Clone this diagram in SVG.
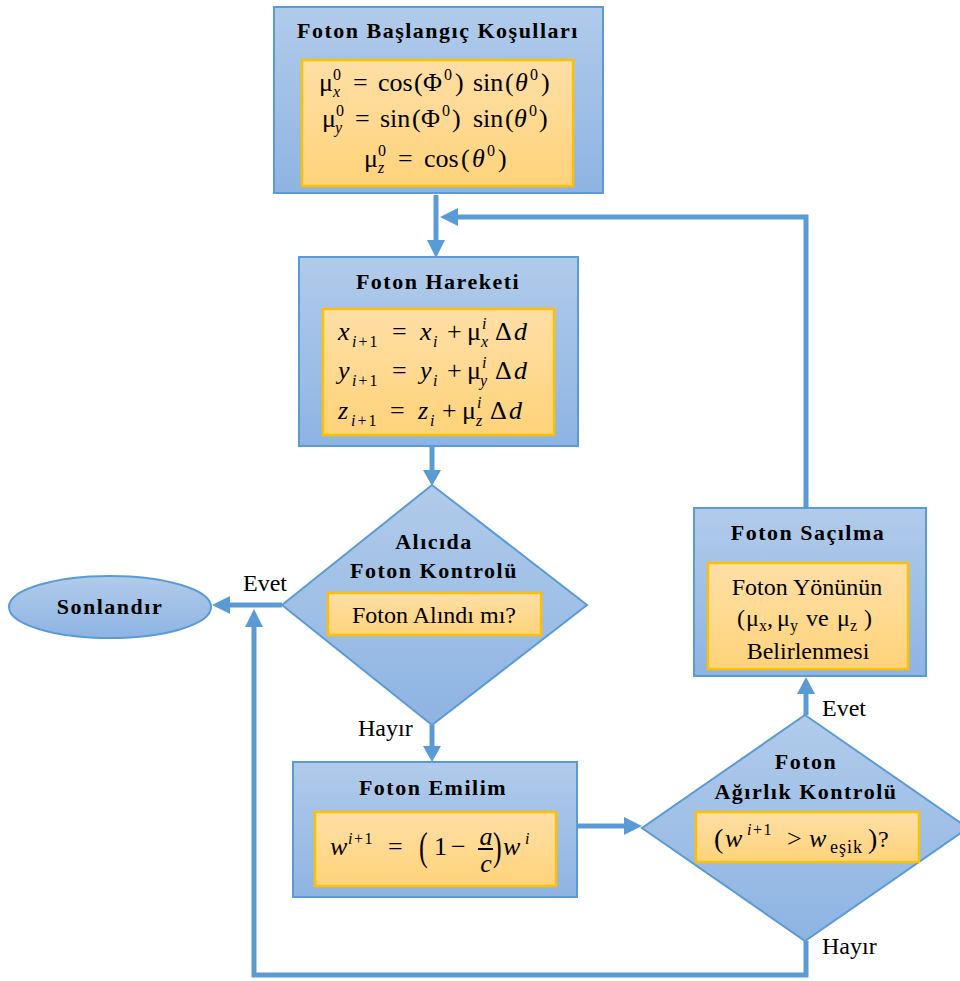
<svg xmlns="http://www.w3.org/2000/svg" width="960" height="981" viewBox="0 0 960 981">
<defs>
<linearGradient id="gb" x1="0" y1="0" x2="0" y2="1"><stop offset="0" stop-color="#b1cbea"/><stop offset="1" stop-color="#8eb4e3"/></linearGradient>
<linearGradient id="go" x1="0" y1="0" x2="0" y2="1"><stop offset="0" stop-color="#fedfa6"/><stop offset="1" stop-color="#ffd37a"/></linearGradient>
<style>
.box{fill:url(#gb);stroke:#5b9bd5;stroke-width:2}
.in{fill:url(#go);stroke:#ffc000;stroke-width:2.5}
.t{font-family:"Liberation Serif","Times New Roman",serif;font-weight:bold;font-size:22px;letter-spacing:1.5px;fill:#000;text-anchor:middle}
.r{font-family:"Liberation Serif","Times New Roman",serif;font-size:24px;fill:#000}
.m{font-family:"Liberation Serif","Times New Roman",serif;font-size:26px;fill:#000}
.s{font-size:16px}
.i{font-style:italic}
.c{fill:none;stroke:#5b9bd5;stroke-width:5}
.ah{fill:#5b9bd5}
</style>
</defs>

<g id="connectors">
<path class="c" d="M436,195 V244"/>
<path class="ah" d="M427,240 L445,240 L436,258 z"/>
<path class="c" d="M806,508 V217 H456"/>
<path class="ah" d="M458,208 L458,226 L440,217 z"/>
<path class="c" d="M432,446 V472"/>
<path class="ah" d="M423,470 L441,470 L432,486 z"/>
<path class="c" d="M432,725 V749"/>
<path class="ah" d="M423,746 L441,746 L432,762 z"/>
<path class="c" d="M282,605 H228"/>
<path class="ah" d="M230,596 L230,614 L212,605 z"/>
<path class="c" d="M806,941 V975 H254 V625"/>
<path class="ah" d="M245,627 L263,627 L254,609 z"/>
<path class="c" d="M577,826 H626"/>
<path class="ah" d="M624,817 L624,835 L642,826 z"/>
<path class="c" d="M806,715 V692"/>
<path class="ah" d="M797,694 L815,694 L806,677 z"/>
</g>

<g id="baslangic">
<rect class="box" x="274" y="7" width="329" height="186"/>
<text class="t" x="438" y="38">Foton Başlangıç Koşulları</text>
<rect class="in" x="302" y="60" width="271" height="126"/>
<text class="m"><tspan x="319" y="91">μ</tspan><tspan class="s" x="333" y="80">0</tspan><tspan class="s i" x="333" y="97">x</tspan><tspan x="353" y="91">=</tspan><tspan x="378" y="91">cos</tspan><tspan x="414" y="91">(</tspan><tspan x="423" y="91">Φ</tspan><tspan class="s" x="444" y="80">0</tspan><tspan x="455" y="91">)</tspan><tspan x="473" y="91">sin</tspan><tspan x="505" y="91">(</tspan><tspan class="i" x="515" y="91">θ</tspan><tspan class="s" x="530" y="80">0</tspan><tspan x="541" y="91">)</tspan></text>
<text class="m"><tspan x="322" y="127">μ</tspan><tspan class="s" x="336" y="116">0</tspan><tspan class="s i" x="335" y="133">y</tspan><tspan x="355" y="127">=</tspan><tspan x="380" y="127">sin</tspan><tspan x="412" y="127">(</tspan><tspan x="421" y="127">Φ</tspan><tspan class="s" x="442" y="116">0</tspan><tspan x="452" y="127">)</tspan><tspan x="473" y="127">sin</tspan><tspan x="505" y="127">(</tspan><tspan class="i" x="514" y="127">θ</tspan><tspan class="s" x="529" y="116">0</tspan><tspan x="539" y="127">)</tspan></text>
<text class="m"><tspan x="364" y="167">μ</tspan><tspan class="s" x="378" y="156">0</tspan><tspan class="s i" x="378" y="173">z</tspan><tspan x="398" y="167">=</tspan><tspan x="424" y="167">cos</tspan><tspan x="461" y="167">(</tspan><tspan class="i" x="472" y="167">θ</tspan><tspan class="s" x="487" y="156">0</tspan><tspan x="498" y="167">)</tspan></text>
</g>

<g id="hareket">
<rect class="box" x="299" y="257" width="279" height="189"/>
<text class="t" x="438" y="289">Foton Hareketi</text>
<rect class="in" x="323" y="309" width="231" height="126"/>
<text class="m"><tspan class="i" x="338" y="340">x</tspan><tspan class="s" x="352" y="347" letter-spacing="2"><tspan class="i">i</tspan>+1</tspan><tspan x="392" y="340">=</tspan><tspan class="i" x="420" y="340">x</tspan><tspan class="s i" x="433" y="347">i</tspan><tspan x="447" y="340">+</tspan><tspan x="467" y="340">μ</tspan><tspan class="s i" x="482" y="329">i</tspan><tspan class="s i" x="481" y="347">x</tspan><tspan x="495" y="340">Δ</tspan><tspan class="i" x="514" y="340">d</tspan></text>
<text class="m"><tspan class="i" x="338" y="379">y</tspan><tspan class="s" x="352" y="386" letter-spacing="2"><tspan class="i">i</tspan>+1</tspan><tspan x="392" y="379">=</tspan><tspan class="i" x="420" y="379">y</tspan><tspan class="s i" x="433" y="386">i</tspan><tspan x="447" y="379">+</tspan><tspan x="467" y="379">μ</tspan><tspan class="s i" x="482" y="368">i</tspan><tspan class="s i" x="480" y="386">y</tspan><tspan x="495" y="379">Δ</tspan><tspan class="i" x="514" y="379">d</tspan></text>
<text class="m"><tspan class="i" x="338" y="419">z</tspan><tspan class="s" x="351" y="426" letter-spacing="2"><tspan class="i">i</tspan>+1</tspan><tspan x="390" y="419">=</tspan><tspan class="i" x="418" y="419">z</tspan><tspan class="s i" x="430" y="426">i</tspan><tspan x="442" y="419">+</tspan><tspan x="462" y="419">μ</tspan><tspan class="s i" x="477" y="408">i</tspan><tspan class="s i" x="476" y="426">z</tspan><tspan x="490" y="419">Δ</tspan><tspan class="i" x="509" y="419">d</tspan></text>
</g>

<g id="alicida">
<path class="box" d="M432,485 L587,605 L432,725 L282,605 z"/>
<text class="t" x="434" y="549">Alıcıda</text>
<text class="t" x="434" y="578">Foton Kontrolü</text>
<rect class="in" x="328" y="593" width="213" height="42"/>
<text class="r" x="434" y="623" text-anchor="middle">Foton Alındı mı?</text>
</g>

<g id="sonlandir">
<ellipse class="box" cx="110" cy="607" rx="101" ry="31"/>
<text class="t" x="110" y="614">Sonlandır</text>
</g>

<g id="emilim">
<rect class="box" x="293" y="762" width="284" height="135"/>
<text class="t" x="433" y="795">Foton Emilim</text>
<rect class="in" x="315" y="812" width="241" height="74"/>
<text class="m"><tspan class="i" x="330" y="855">w</tspan><tspan class="s" x="348" y="844" letter-spacing="1.5"><tspan class="i">i</tspan>+1</tspan><tspan x="388" y="855">=</tspan></text>
<text class="m" transform="translate(419,860) scale(1,1.5)">(</text>
<text class="m"><tspan x="434" y="855">1</tspan><tspan x="451" y="855">−</tspan></text>
<text class="m i" x="486" y="845" text-anchor="middle">a</text>
<line x1="478" y1="849" x2="493" y2="849" stroke="#000" stroke-width="2"/>
<text class="m i" x="486" y="872" text-anchor="middle">c</text>
<text class="m" transform="translate(493,860) scale(1,1.5)">)</text>
<text class="m"><tspan class="i" x="503" y="855">w</tspan><tspan class="s i" x="525" y="844">i</tspan></text>
</g>

<g id="agirlik">
<path class="box" d="M805,715 L968,828 L805,941 L642,828 z"/>
<text class="t" x="806" y="769">Foton</text>
<text class="t" x="806" y="799">Ağırlık Kontrolü</text>
<rect class="in" x="696" y="812" width="223" height="50"/>
<text class="m"><tspan x="714" y="848" style="font-size:28px">(</tspan><tspan class="i" x="725" y="847">w</tspan><tspan class="s" x="747" y="835" letter-spacing="1.5"><tspan class="i">i</tspan>+1</tspan><tspan x="787" y="847">&gt;</tspan><tspan class="i" x="809" y="847">w</tspan><tspan x="830" y="853" style="font-size:18px" letter-spacing="1">eşik</tspan><tspan x="868" y="848" style="font-size:28px">)</tspan><tspan x="878" y="847" style="font-size:24px">?</tspan></text>
</g>

<g id="sacilma">
<rect class="box" x="694" y="508" width="232" height="168"/>
<text class="t" x="808" y="540">Foton Saçılma</text>
<rect class="in" x="708" y="563" width="200" height="106"/>
<text class="r" x="807" y="595" text-anchor="middle">Foton Yönünün</text>
<text class="r"><tspan x="737" y="626">(</tspan><tspan x="746" y="626">μ</tspan><tspan class="s" x="759" y="631">x</tspan><tspan x="767" y="626">,</tspan><tspan x="777" y="626">μ</tspan><tspan class="s" x="790" y="631">y</tspan><tspan x="806" y="626">ve</tspan><tspan x="837" y="626">μ</tspan><tspan class="s" x="850" y="631">z</tspan><tspan x="864" y="626">)</tspan></text>
<text class="r" x="808" y="659" text-anchor="middle">Belirlenmesi</text>
</g>

<g id="labels">
<text class="r" x="243" y="591">Evet</text>
<text class="r" x="358" y="736">Hayır</text>
<text class="r" x="822" y="716">Evet</text>
<text class="r" x="822" y="954">Hayır</text>
</g>
</svg>
